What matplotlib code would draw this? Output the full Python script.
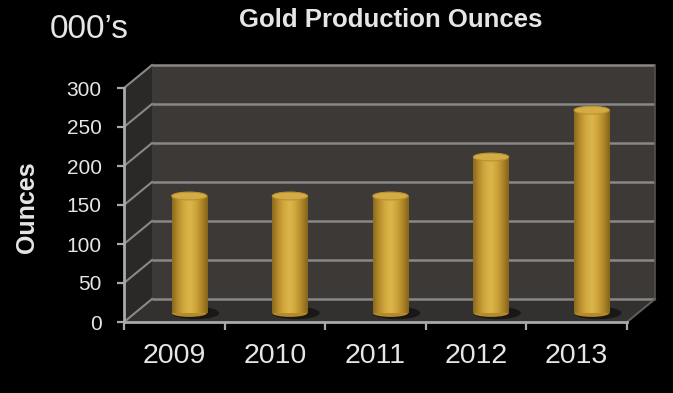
"""Gold production chart, faux-3D cylinder bars on a dark box."""

import matplotlib

matplotlib.use("Agg")
import matplotlib.pyplot as plt
import numpy as np
from matplotlib.colors import LinearSegmentedColormap
from matplotlib.patches import Ellipse, Polygon, Rectangle
from matplotlib.transforms import IdentityTransform, ScaledTranslation

years = ["2009", "2010", "2011", "2012", "2013"]
ounces = [150, 150, 150, 200, 260]
y_ticks = [0, 50, 100, 150, 200, 250, 300]

DPI = 100
DEPTH = np.array([28.0, 23.0])   # px offset from front plane to back wall
BAR_OFF = np.array([15.0, 9.0])  # px offset of the cylinders
BAR_W = 0.35
CAP_H = 10                      # cylinder cap height in data units

plt.rcParams["font.family"] = ["Liberation Sans", "DejaVu Sans"]
TXT = "#e6e6e6"
AXC = "#a9a9a9"

fig = plt.figure(figsize=(6.73, 3.93), dpi=DPI, facecolor="black")
ax = fig.add_axes([124 / 673, 71 / 393, 503 / 673, 234 / 393])
ax.set_facecolor("none")
ax.set_autoscale_on(False)
x0, x1 = -0.5, len(years) - 0.5
ymax = y_ticks[-1]
ax.set_xlim(x0, x1)
ax.set_ylim(0, ymax)

back = ax.transData + ScaledTranslation(DEPTH[0] / DPI, DEPTH[1] / DPI,
                                        fig.dpi_scale_trans)
mid = ax.transData + ScaledTranslation(BAR_OFF[0] / DPI, BAR_OFF[1] / DPI,
                                       fig.dpi_scale_trans)
pix = IdentityTransform()


def disp(x, y, d):
    """Display coords of data point (x, y) pushed d (0..1) into the box."""
    return ax.transData.transform((x, y)) + d * DEPTH


def edge(p, q, color, lw):
    ax.add_line(plt.Line2D([p[0], q[0]], [p[1], q[1]], transform=pix,
                           color=color, lw=lw, zorder=1, clip_on=False))


# ---- box: back wall, side wall, floor -----------------------------------
ax.add_patch(Rectangle((x0, 0), x1 - x0, ymax, transform=back,
                       facecolor="#3d3937", edgecolor="none", zorder=0,
                       clip_on=False))
side = [disp(x0, 0, 0), disp(x0, ymax, 0), disp(x0, ymax, 1), disp(x0, 0, 1)]
ax.add_patch(Polygon(side, closed=True, transform=pix, facecolor="#2b2927",
                     edgecolor="none", zorder=0.5, clip_on=False))
floor = [disp(x0, 0, 0), disp(x1, 0, 0), disp(x1, 0, 1), disp(x0, 0, 1)]
ax.add_patch(Polygon(floor, closed=True, transform=pix, facecolor="#333130",
                     edgecolor="none", zorder=0.5, clip_on=False))

ax.hlines(y_ticks, x0, x1, transform=back, colors="#8a8886", lw=1.8,
          zorder=1, clip_on=False)
ax.vlines([x1], 0, ymax, transform=back, colors="#55524f", lw=1.2, zorder=1,
          clip_on=False)
for t in y_ticks:
    edge(disp(x0, t, 0), disp(x0, t, 1), "#8a8886", 1.5)
edge(disp(x1, 0, 0), disp(x1, 0, 1), "#5e5b58", 1.5)

# ---- cylinders -----------------------------------------------------------
gold = LinearSegmentedColormap.from_list(
    "gold", ["#8a6a1c", "#b88e2e", "#d2a93f", "#dcb64c",
             "#cea53b", "#b08729", "#85651a"])
grad = np.linspace(0, 1, 64)[np.newaxis, :]

for i, v in enumerate(ounces):
    # soft shadow on the floor
    ax.add_patch(Ellipse((i + 0.06, 0), BAR_W * 1.35, CAP_H * 1.6,
                         transform=mid, facecolor="#161412", alpha=0.85,
                         edgecolor="none", zorder=2, clip_on=False))
    body = Rectangle((i - BAR_W / 2, 0), BAR_W, v, transform=mid,
                     facecolor="#c9a038", edgecolor="none", zorder=3,
                     clip_on=False)
    ax.add_patch(body)
    im = ax.imshow(grad, cmap=gold, aspect="auto", interpolation="bicubic",
                   extent=(i - BAR_W / 2, i + BAR_W / 2, 0, v),
                   transform=mid, zorder=3.1)
    im.set_clip_path(body)
    ax.add_patch(Ellipse((i, 0), BAR_W, CAP_H, transform=mid,
                         edgecolor="none", facecolor="#b48a2a", zorder=2.9,
                         clip_on=False))
    ax.add_patch(Ellipse((i, v), BAR_W, CAP_H, transform=mid,
                         facecolor="#d3ac46", edgecolor="#b99230", lw=0.8,
                         zorder=4, clip_on=False))

ax.set_xlim(x0, x1)
ax.set_ylim(0, ymax)

# ---- front axes ----------------------------------------------------------
for s in ("top", "right"):
    ax.spines[s].set_visible(False)
for s in ("left", "bottom"):
    ax.spines[s].set_color(AXC)
    ax.spines[s].set_linewidth(2)
    ax.spines[s].set_zorder(5)

ax.set_yticks(y_ticks)
ax.set_yticklabels([str(t) for t in y_ticks])
ax.tick_params(axis="y", colors=AXC, length=5, width=1.6, pad=11,
               labelcolor=TXT, labelsize=15)
ax.set_xticks(range(len(years)))
ax.set_xticklabels(years)
ax.tick_params(axis="x", which="major", length=0, pad=15, labelcolor=TXT,
               labelsize=20.5)
ax.set_xticks(np.arange(x0, x1 + 0.01, 1), minor=True)
ax.tick_params(axis="x", which="minor", colors=AXC, length=6, width=1.6)

fig.text(391 / 673, 1 - 20 / 393, "Gold Production Ounces", color=TXT,
         fontsize=18.5, fontweight="bold", ha="center", va="center")
fig.text(89 / 673, 1 - 29 / 393, "000’s", color=TXT, fontsize=24,
         ha="center", va="center")
fig.text(27 / 673, 1 - 207 / 393, "Ounces", color=TXT, fontsize=18,
         fontweight="bold", rotation=90, ha="center", va="center")

fig.savefig("out.png", dpi=DPI, facecolor="black")
